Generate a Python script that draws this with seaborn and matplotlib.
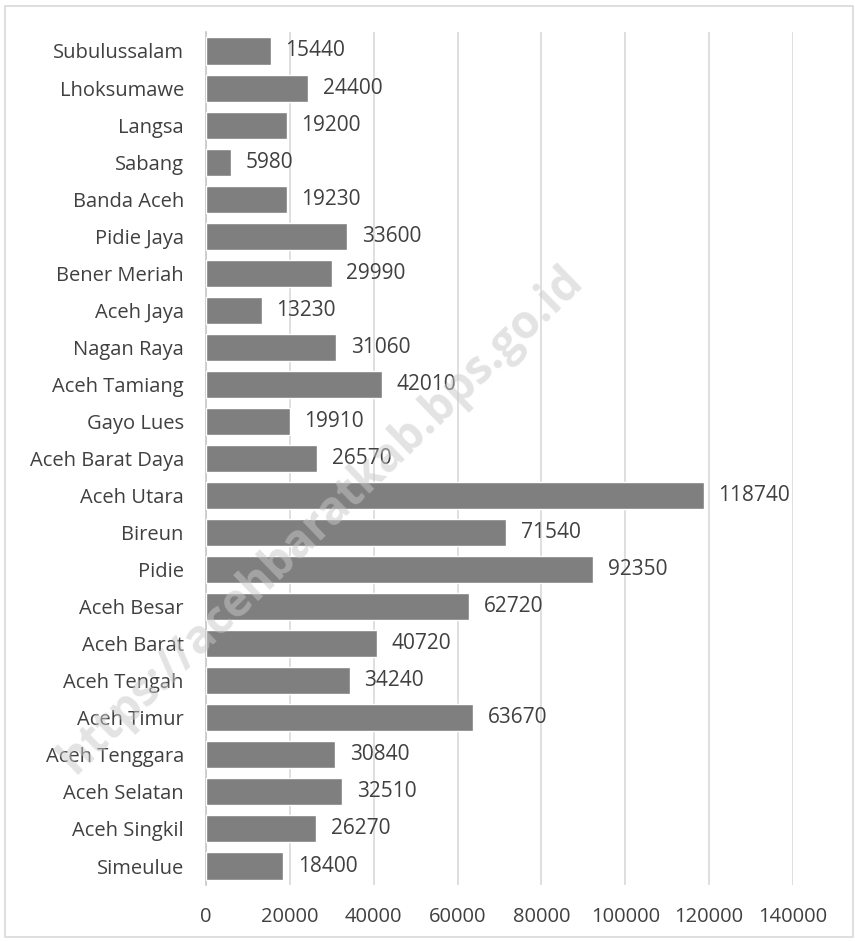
import matplotlib
matplotlib.use("Agg")
import matplotlib.pyplot as plt
import matplotlib.patches as mpatches
import seaborn as sns
import pandas as pd

# ── Data (top to bottom as drawn) ─────────────────────────────────────────
regions = ['Subulussalam', 'Lhoksumawe', 'Langsa', 'Sabang', 'Banda Aceh',
           'Pidie Jaya', 'Bener Meriah', 'Aceh Jaya', 'Nagan Raya',
           'Aceh Tamiang', 'Gayo Lues', 'Aceh Barat Daya', 'Aceh Utara',
           'Bireun', 'Pidie', 'Aceh Besar', 'Aceh Barat', 'Aceh Tengah',
           'Aceh Timur', 'Aceh Tenggara', 'Aceh Selatan', 'Aceh Singkil',
           'Simeulue']
values = [15440, 24400, 19200, 5980, 19230, 33600, 29990, 13230, 31060,
          42010, 19910, 26570, 118740, 71540, 92350, 62720, 40720, 34240,
          63670, 30840, 32510, 26270, 18400]
xticks = [0, 20000, 40000, 60000, 80000, 100000, 120000, 140000]
watermark = 'https://acehbaratkab.bps.go.id'

df = pd.DataFrame({'region': regions, 'value': values})

TEXT = '#404040'
BAR = '#7f7f7f'
GRID = '#d9d9d9'

sns.set_style('white')
plt.rcParams['font.family'] = ['Open Sans', 'DejaVu Sans']

fig = plt.figure(figsize=(8.55, 9.41), dpi=100)
ax = fig.add_axes([0.241, 0.060, 0.6865, 0.9055])

sns.barplot(data=df, x='value', y='region', order=regions, color=BAR,
            saturation=1, width=0.73, ax=ax, zorder=3)

ax.set_xlim(0, 140000)
ax.set_xticks(xticks)
ax.set_xticklabels([str(t) for t in xticks])
ax.grid(axis='x', color=GRID, linewidth=1.2, zorder=0)
ax.set_xlabel('')
ax.set_ylabel('')
for s in ['top', 'right', 'bottom']:
    ax.spines[s].set_visible(False)
ax.spines['left'].set_color('#c8c8c8')
ax.spines['left'].set_linewidth(1.2)
ax.tick_params(axis='y', length=0, pad=16, labelsize=14.5, labelcolor=TEXT)
ax.tick_params(axis='x', length=0, pad=16, labelsize=14.5, labelcolor=TEXT)

for i, v in enumerate(values):
    ax.text(v + 3500, i, str(v), va='center', ha='left',
            fontsize=15, color=TEXT, zorder=4)

# watermark
fig.text(0.376, 0.448, watermark, rotation=44, fontsize=33,
         fontweight='bold', color='#c8c8c8', alpha=0.5,
         ha='center', va='center', zorder=10)

# light figure border
fig.patches.append(mpatches.Rectangle((0.006, 0.004), 0.992, 0.99,
                                      transform=fig.transFigure, fill=False,
                                      edgecolor=GRID, linewidth=1.2))

fig.savefig('out.png', dpi=100)
